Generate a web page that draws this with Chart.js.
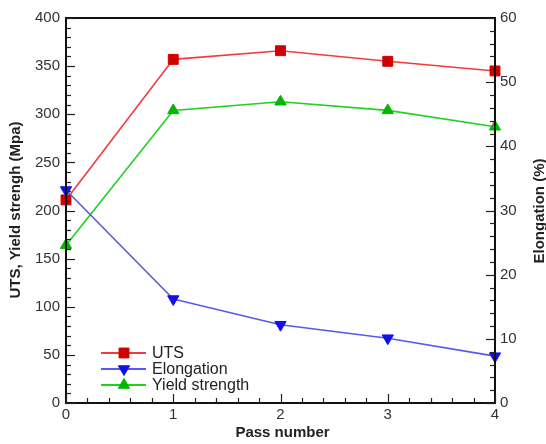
<!DOCTYPE html>
<html>
<head>
<meta charset="utf-8">
<script src="https://cdn.jsdelivr.net/npm/chart.js@4"></script>
<style>
html,body{margin:0;padding:0;background:#fff;}
#wrap{width:546px;height:444px;position:relative;}
</style>
</head>
<body>
<div id="wrap"><canvas id="c" width="546" height="444"></canvas></div>
<script>
const passNumbers = [0, 1, 2, 3, 4];
const utsValues = [211, 357, 366, 355, 345];
const yieldValues = [164, 304, 313, 304, 287];
const elongationValues = [33.2, 16.2, 12.2, 10.1, 7.3];
const leftTicks = [0, 50, 100, 150, 200, 250, 300, 350, 400];
const rightTicks = [0, 10, 20, 30, 40, 50, 60];
const xTicks = [0, 1, 2, 3, 4];
const seriesNames = ['UTS', 'Elongation', 'Yield strength'];
const leftTitle = 'UTS, Yield strengh (Mpa)';
const rightTitle = 'Elongation (%)';
const xTitle = 'Pass number';

const FONT = '"Liberation Sans", Arial, sans-serif';
const C_UTS_LINE = '#f03c3c', C_UTS_PT = '#d00000';
const C_EL_LINE = '#5858f0', C_EL_PT = '#1010ee';
const C_Y_LINE = '#22d022', C_Y_PT = '#00b800';

const toXY = (vals) => vals.map((v, i) => ({x: passNumbers[i], y: v}));

const framePlugin = {
  id: 'frame',
  afterDraw(chart) {
    const ctx = chart.ctx;
    const a = chart.chartArea;
    const sx = chart.scales.x, sl = chart.scales.yl, sr = chart.scales.yr;
    ctx.save();
    ctx.strokeStyle = '#111';
    ctx.lineWidth = 2;
    ctx.strokeRect(a.left, a.top, a.right - a.left, a.bottom - a.top);
    ctx.lineWidth = 1.2;
    ctx.strokeStyle = '#222';
    for (let v = 0; v <= 400; v += 10) {
      const y = Math.round(sl.getPixelForValue(v)) + 0.5;
      const len = (v % 50 === 0) ? 9 : 5;
      ctx.beginPath(); ctx.moveTo(a.left, y); ctx.lineTo(a.left + len, y); ctx.stroke();
    }
    for (let v = 0; v <= 60; v += 2) {
      const y = Math.round(sr.getPixelForValue(v)) + 0.5;
      const len = (v % 10 === 0) ? 9 : 5;
      ctx.beginPath(); ctx.moveTo(a.right, y); ctx.lineTo(a.right - len, y); ctx.stroke();
    }
    for (let k = 0; k <= 20; k++) {
      const v = k * 0.2;
      const x = Math.round(sx.getPixelForValue(v)) + 0.5;
      const len = (k % 5 === 0) ? 9 : 5;
      ctx.beginPath(); ctx.moveTo(x, a.bottom); ctx.lineTo(x, a.bottom - len); ctx.stroke();
    }
    ctx.fillStyle = '#222';
    ctx.font = 'bold 15px ' + FONT;
    ctx.textAlign = 'center';
    ctx.textBaseline = 'middle';
    ctx.fillText(xTitle, (a.left + a.right) / 2 + 2, 433);
    ctx.save();
    ctx.translate(16, 210);
    ctx.rotate(-Math.PI / 2);
    ctx.fillText(leftTitle, 0, 0);
    ctx.restore();
    ctx.save();
    ctx.translate(540, 211);
    ctx.rotate(-Math.PI / 2);
    ctx.fillText(rightTitle, 0, 0);
    ctx.restore();
    const rows = [
      {name: seriesNames[0], line: C_UTS_LINE, pt: C_UTS_PT, style: 'rect', rot: 0, r: 7},
      {name: seriesNames[1], line: C_EL_LINE, pt: C_EL_PT, style: 'triangle', rot: 180, r: 6.5},
      {name: seriesNames[2], line: C_Y_LINE, pt: C_Y_PT, style: 'triangle', rot: 0, r: 6.5}
    ];
    const ys = [353, 369, 385];
    ctx.font = '16px ' + FONT;
    ctx.textAlign = 'left';
    rows.forEach((r, i) => {
      const y = ys[i];
      ctx.strokeStyle = r.line; ctx.lineWidth = 2;
      ctx.beginPath(); ctx.moveTo(101, y); ctx.lineTo(146, y); ctx.stroke();
      ctx.fillStyle = r.pt; ctx.strokeStyle = r.pt; ctx.lineWidth = 1;
      Chart.helpers.drawPoint(ctx, {pointStyle: r.style, radius: r.r, rotation: r.rot, borderWidth: 1}, 124, y);
      ctx.fillStyle = '#222';
      ctx.fillText(r.name, 152, y + 1);
    });
    ctx.restore();
  }
};

const ds = (label, data, axis, line, pt, style, rot, r) => ({
  label, data, yAxisID: axis,
  borderColor: line, borderWidth: 1.6,
  pointBackgroundColor: pt, pointBorderColor: pt, pointBorderWidth: 1,
  pointStyle: style, pointRotation: rot, pointRadius: r, pointHoverRadius: r,
  tension: 0, clip: false
});

const elDs = ds(seriesNames[1], toXY(elongationValues), 'yr', C_EL_LINE, C_EL_PT, 'triangle', 180, 6.5);
elDs.segment = { borderColor: (c) => c.p0DataIndex === 0 ? '#5c5cc8' : undefined };

new Chart(document.getElementById('c'), {
  type: 'line',
  data: {
    datasets: [
      elDs,
      ds(seriesNames[2], toXY(yieldValues), 'yl', C_Y_LINE, C_Y_PT, 'triangle', 0, 6.5),
      ds(seriesNames[0], toXY(utsValues), 'yl', C_UTS_LINE, C_UTS_PT, 'rect', 0, 7)
    ]
  },
  options: {
    responsive: false,
    animation: false,
    events: [],
    layout: {padding: {top: 18, left: 0, right: 0, bottom: 0}},
    plugins: {legend: {display: false}, tooltip: {enabled: false}},
    scales: {
      x: {
        type: 'linear', min: 0, max: 4,
        afterBuildTicks: (s) => { s.ticks = xTicks.map(v => ({value: v})); },
        afterFit: (s) => { s.height = 41; },
        grid: {display: false, drawTicks: false},
        border: {display: false},
        ticks: {color: '#333', font: {family: FONT, size: 15}, padding: 3, maxRotation: 0}
      },
      yl: {
        type: 'linear', position: 'left', min: 0, max: 400,
        afterBuildTicks: (s) => { s.ticks = leftTicks.map(v => ({value: v})); },
        afterFit: (s) => { s.width = 66; },
        grid: {display: false, drawTicks: false},
        border: {display: false},
        ticks: {color: '#333', font: {family: FONT, size: 15}, padding: 6}
      },
      yr: {
        type: 'linear', position: 'right', min: 0, max: 60,
        afterBuildTicks: (s) => { s.ticks = rightTicks.map(v => ({value: v})); },
        afterFit: (s) => { s.width = 51; },
        grid: {display: false, drawTicks: false},
        border: {display: false},
        ticks: {color: '#333', font: {family: FONT, size: 15}, padding: 5}
      }
    }
  },
  plugins: [framePlugin]
});
</script>
</body>
</html>
